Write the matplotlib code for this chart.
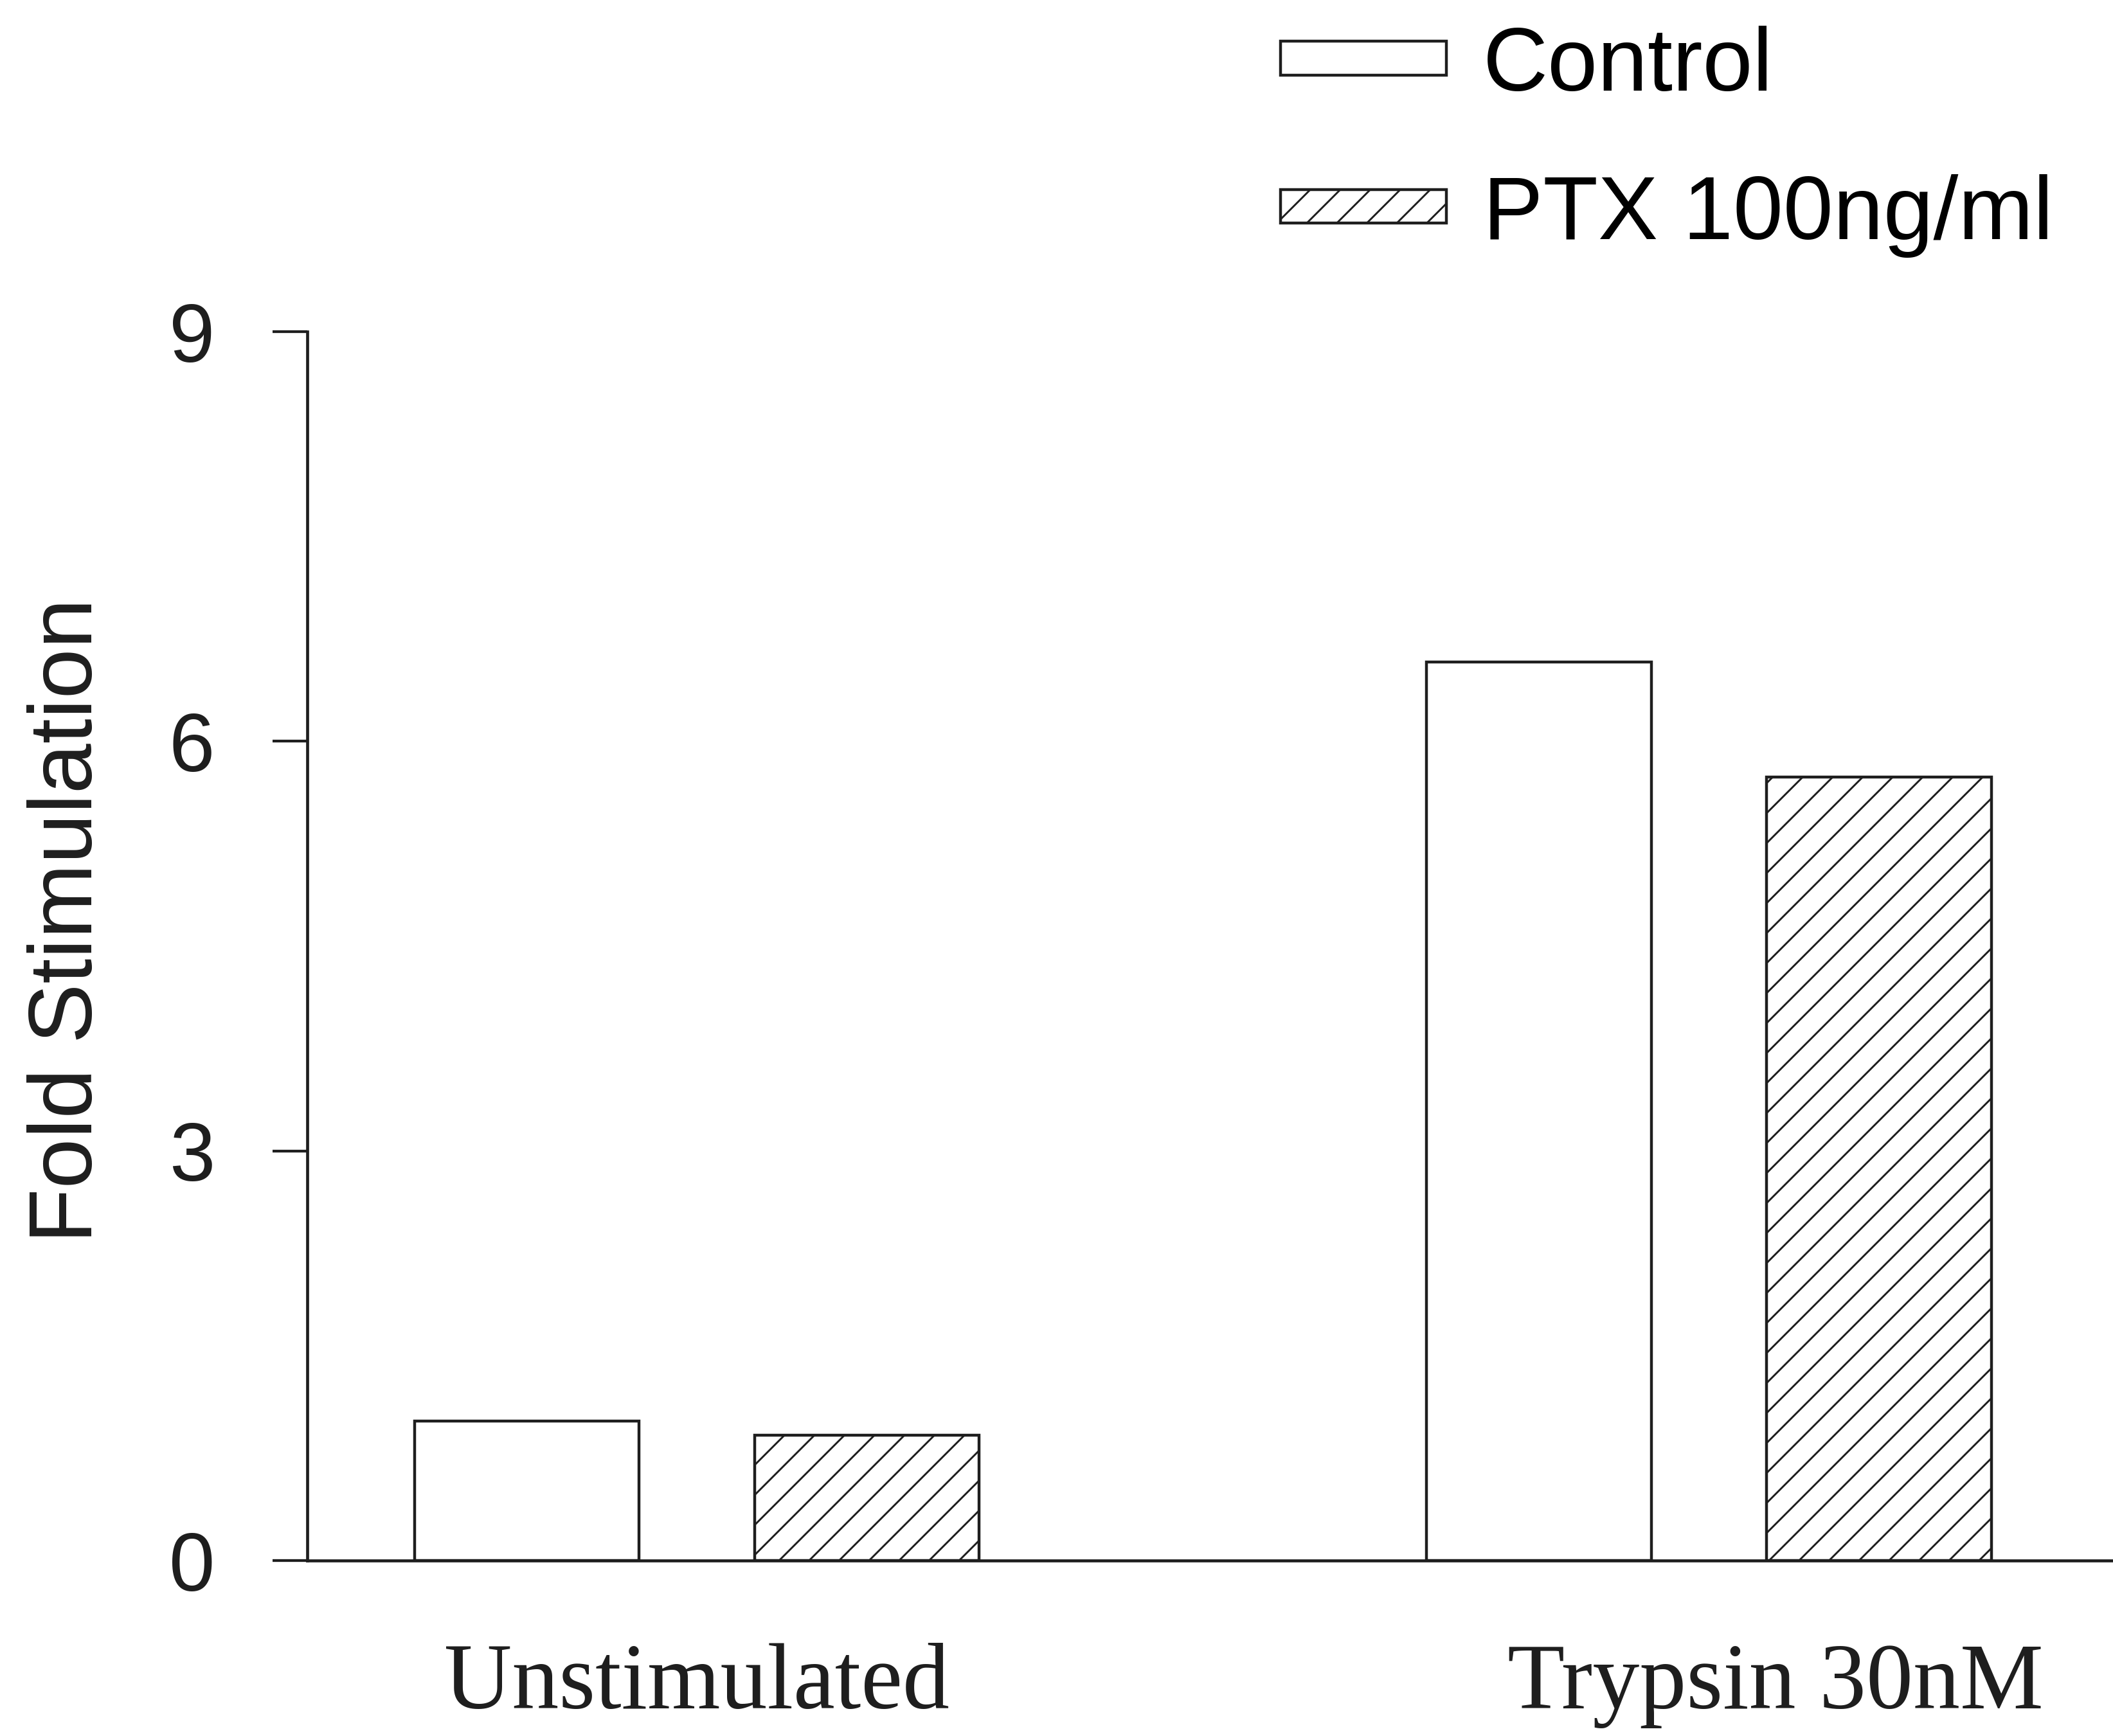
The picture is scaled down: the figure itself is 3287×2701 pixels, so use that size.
import matplotlib
matplotlib.use("Agg")
import matplotlib.pyplot as plt
import matplotlib.transforms as mtransforms
import numpy as np

# Data
groups = ["Unstimulated", "Trypsin 30nM"]
series = ["Control", "PTX 100ng/ml"]
control = [1.02, 6.58]
ptx = [0.92, 5.74]
yticks = [0, 3, 6, 9]

DPI = 280
W, H = 3288, 2701
INK = "#1e1e1e"

plt.rcParams["font.family"] = ["Liberation Sans", "DejaVu Sans"]
plt.rcParams["hatch.linewidth"] = 0.75

fig = plt.figure(figsize=(W / DPI, H / DPI), dpi=DPI, facecolor="white")
ax = fig.add_axes([478 / W, 1 - 2428 / H, 1 - 478 / W, (2428 - 516) / H])

x = np.arange(len(groups))
width = 0.222
offset = 0.168

b1 = ax.bar(x - offset, control, width, facecolor="white", edgecolor=INK,
            linewidth=1.15, label=series[0])
b2 = ax.bar(x + offset, ptx, width, facecolor="white", edgecolor=INK,
            hatch="//", linewidth=1.15, label=series[1])

ax.set_xlim(-0.385, 1.400)
ax.set_ylim(0, 9)
ax.set_yticks(yticks)
ax.tick_params(axis="y", length=14, width=1.1, pad=23, labelsize=33,
               color=INK, labelcolor=INK)

ax.set_xticks(x)
ax.set_xticklabels(groups, fontfamily=["Liberation Serif", "DejaVu Serif"],
                   fontsize=37.5, color=INK)
ax.tick_params(axis="x", length=0, pad=33)
# second group label sits a little to the right of its bar pair
lab = ax.get_xticklabels()[1]
lab.set_transform(lab.get_transform() +
                  mtransforms.ScaledTranslation(104 / DPI, 0, fig.dpi_scale_trans))

for s in ["top", "right"]:
    ax.spines[s].set_visible(False)
for s in ["left", "bottom"]:
    ax.spines[s].set_linewidth(1.2)
    ax.spines[s].set_color(INK)

ax.set_ylabel("Fold Stimulation", fontsize=36, color=INK)
ax.yaxis.set_label_coords(-0.109, 0.521)

fig.legend(handles=[b1, b2], labels=series, loc="upper left",
           bbox_to_anchor=(1992 / W, 1 - 40 / H), frameon=False, fontsize=36,
           handlelength=1.84, handleheight=0.2, handletextpad=0.41,
           labelspacing=0.72, borderpad=0, borderaxespad=0)

fig.savefig("out.png", dpi=DPI, facecolor="white")
